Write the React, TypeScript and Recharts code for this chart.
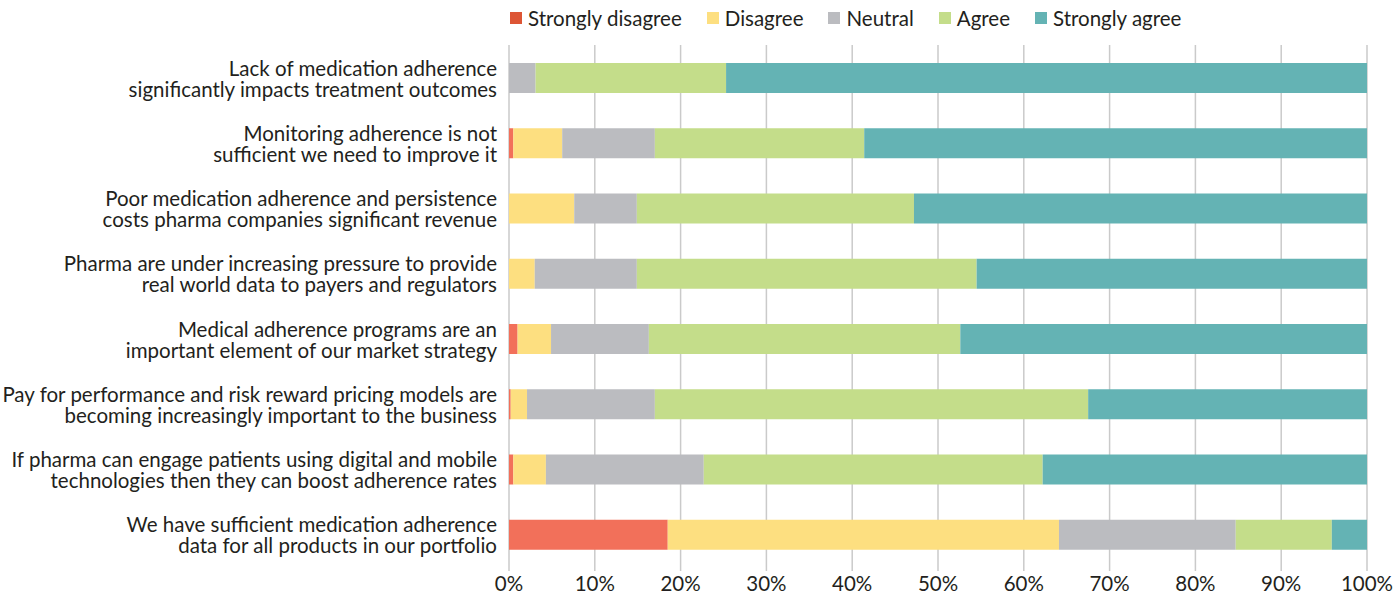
import React from "react";
import { BarChart, Bar, XAxis, YAxis, CartesianGrid, Legend } from "recharts";

const statements = [
  "Lack of medication adherence|significantly impacts treatment outcomes",
  "Monitoring adherence is not|sufficient we need to improve it",
  "Poor medication adherence and persistence|costs pharma companies significant revenue",
  "Pharma are under increasing pressure to provide|real world data to payers and regulators",
  "Medical adherence programs are an|important element of our market strategy",
  "Pay for performance and risk reward pricing models are|becoming increasingly important to the business",
  "If pharma can engage patients using digital and mobile|technologies then they can boost adherence rates",
  "We have sufficient medication adherence|data for all products in our portfolio",
];

const stronglyDisagree = [0, 0.5, 0, 0, 1.0, 0.2, 0.5, 18.5];
const disagree = [0, 5.7, 7.6, 3.0, 3.9, 1.9, 3.8, 45.6];
const neutral = [3.1, 10.8, 7.3, 11.9, 11.4, 14.9, 18.4, 20.6];
const agree = [22.2, 24.4, 32.3, 39.6, 36.3, 50.5, 39.5, 11.2];
const stronglyAgree = [74.7, 58.6, 52.8, 45.5, 47.4, 32.5, 37.8, 4.1];

const percentTicks = [0, 10, 20, 30, 40, 50, 60, 70, 80, 90, 100];

const seriesKeys = ["sd", "d", "n", "a", "sa"];
const seriesNames = ["Strongly disagree", "Disagree", "Neutral", "Agree", "Strongly agree"];
const barColors = ["#f2705a", "#fddf80", "#bbbcc0", "#c4dd8a", "#64b3b4"];
const legendColors = ["#dd5535", "#fddf80", "#bbbcc0", "#c4dd8a", "#64b3b4"];

const data = statements.map((s, i) => ({
  name: s,
  sd: stronglyDisagree[i],
  d: disagree[i],
  n: neutral[i],
  a: agree[i],
  sa: stronglyAgree[i],
}));

const FONT = "Lato, 'Noto Sans', sans-serif";
const TEXT = "#231f20";
const FS = 20.5;

const StatementTick = (props: any) => {
  const { x, y, payload } = props;
  const lines = String(payload.value).split("|");
  return (
    <text x={x} y={y} textAnchor="end" fill={TEXT} fontSize={FS} fontFamily={FONT}>
      <tspan x={x} y={y - 2}>{lines[0]}</tspan>
      <tspan x={x} y={y + 19}>{lines[1]}</tspan>
    </text>
  );
};

const PercentTick = (props: any) => {
  const { x, y, payload } = props;
  return (
    <text x={x} y={y + 20} textAnchor="middle" fill={TEXT} fontSize={FS} fontFamily={FONT}>
      {payload.value}%
    </text>
  );
};

const LegendRow = () => (
  <div style={{ height: 36, display: "flex", alignItems: "center", paddingLeft: 510, fontFamily: FONT, fontSize: FS, color: TEXT }}>
    {seriesNames.map((name, i) => (
      <div key={name} style={{ display: "flex", alignItems: "center", marginRight: 25 }}>
        <span style={{ width: 12, height: 12, background: legendColors[i], marginRight: 6, display: "inline-block" }} />
        <span>{name}</span>
      </div>
    ))}
  </div>
);

export default function App() {
  return (
    <div style={{ position: "absolute", left: 0, top: 0, background: "#fff", fontFamily: FONT }}>
      <BarChart
        width={1400}
        height={602}
        data={data}
        layout="vertical"
        margin={{ top: 9, right: 33, bottom: 5, left: 0 }}
      >
        <CartesianGrid horizontal={false} stroke="#cacaca" strokeWidth={1.5} />
        <XAxis
          type="number"
          domain={[0, 100]}
          ticks={percentTicks}
          axisLine={false}
          tickLine={{ stroke: "#cacaca", strokeWidth: 1.5 }}
          tickSize={4}
          tickMargin={0}
          tick={<PercentTick />}
          interval={0}
        />
        <YAxis
          type="category"
          dataKey="name"
          width={509}
          axisLine={false}
          tickLine={false}
          tickSize={0}
          tickMargin={12}
          tick={<StatementTick />}
          interval={0}
        />
        <Legend
          verticalAlign="top"
          align="left"
          content={<LegendRow />}
          wrapperStyle={{ top: 0, left: 0, width: 1400 }}
        />
        {seriesKeys.map((k, i) => (
          <Bar
            key={k}
            dataKey={k}
            name={seriesNames[i]}
            stackId="a"
            fill={barColors[i]}
            barSize={30}
            isAnimationActive={false}
          />
        ))}
      </BarChart>
    </div>
  );
}
